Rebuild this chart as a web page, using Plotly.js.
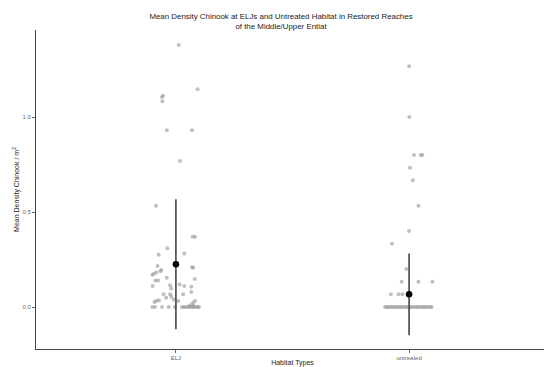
<!DOCTYPE html>
<html>
<head>
<meta charset="utf-8">
<script src="https://cdn.plot.ly/plotly-3.0.1.min.js"></script>
<style>
html,body{margin:0;padding:0;overflow:hidden;background:#fff;}
#chart{width:550px;height:367px;}
</style>
</head>
<body>
<div id="chart"></div>
<script>
// Categories and tick labels
var categories = ["ELJ", "untreated"];
var categoryPositions = [1, 2];

// ELJ densities (points) and their horizontal jitter
var eljDensity = [1.379, 1.146, 1.112, 1.106, 1.083, 0.930, 0.930, 0.768, 0.533,
  0.370, 0.370, 0.309, 0.275, 0.281, 0.216, 0.195, 0.188, 0.175, 0.170, 0.181,
  0.209, 0.207, 0.139, 0.139, 0.154, 0.147, 0.111, 0.119, 0.111, 0.114, 0.098,
  0.079, 0.107, 0.067, 0.067, 0.054, 0.067, 0.049, 0.032, 0.035, 0.026, 0.032,
  0.032, 0.023, 0.040, 0.009, 0.009,
  0, 0, 0, 0, 0, 0, 0, 0, 0, 0, 0, 0, 0, 0, 0];
var eljJitter = [0.012, 0.093, -0.055, -0.060, -0.058, -0.039, 0.069, 0.017, -0.085,
  0.072, 0.082, -0.037, -0.074, 0.036, -0.079, -0.063, -0.066, -0.094, -0.101, -0.084,
  0.069, 0.074, -0.088, -0.076, -0.039, 0.081, -0.100, 0.016, 0.036, -0.025, -0.020,
  0.066, 0.066, -0.053, -0.025, -0.020, 0.031, -0.042, -0.084, -0.073, -0.092, 0.010,
  0.082, 0.073, -0.009, 0.060, 0.074,
  -0.101, -0.090, -0.060, -0.031, -0.005, 0.026, 0.034, 0.043, 0.051, 0.060, 0.069,
  0.077, 0.086, 0.094, 0.099];

// Untreated densities (points) and jitter
var untreatedDensity = [1.267, 1.000, 0.800, 0.800, 0.800, 0.733, 0.667, 0.533, 0.400,
  0.333, 0.200, 0.133, 0.133, 0.133, 0.067, 0.067, 0.067,
  0, 0, 0, 0, 0, 0, 0, 0, 0, 0, 0, 0, 0, 0, 0, 0, 0, 0, 0, 0, 0, 0, 0, 0, 0];
var untreatedJitter = [0.000, 0.001, 0.021, 0.050, 0.057, 0.004, 0.016, 0.040, 0.000,
  -0.073, -0.012, -0.032, 0.040, 0.100, -0.078, -0.046, -0.029,
  -0.103, -0.095, -0.088, -0.079, -0.071, -0.062, -0.055, -0.046, -0.037, -0.030,
  -0.021, -0.012, -0.004, 0.005, 0.013, 0.022, 0.031, 0.038, 0.047, 0.056, 0.064,
  0.072, 0.081, 0.090, 0.097, 0.104];

// Mean and standard deviation per habitat type
var meanDensity = [0.225, 0.067];
var sdDensity = [0.342, 0.215];

function place(pos, jit) { return jit.map(function (j) { return pos + j; }); }

var pointStyle = {size: 4, color: "rgba(150,150,150,0.6)", line: {width: 0}};

var traces = [
  {x: place(categoryPositions[0], eljJitter), y: eljDensity, type: "scatter", mode: "markers",
   marker: pointStyle, hoverinfo: "y", showlegend: false},
  {x: place(categoryPositions[1], untreatedJitter), y: untreatedDensity, type: "scatter", mode: "markers",
   marker: pointStyle, hoverinfo: "y", showlegend: false},
  {x: categoryPositions, y: meanDensity, type: "scatter", mode: "markers",
   marker: {size: 6.5, color: "#000"},
   error_y: {type: "data", array: sdDensity, visible: true, thickness: 1.6, width: 0, color: "#444"},
   showlegend: false}
];

var tickFont = {family: "Liberation Sans, Arial, sans-serif", size: 6, color: "#666"};
var layout = {
  width: 550, height: 367,
  margin: {l: 36, r: 1, t: 30, b: 18},
  paper_bgcolor: "#fff", plot_bgcolor: "#fff",
  font: {family: "Liberation Sans, Arial, sans-serif", color: "#000"},
  title: {text: "Mean Density Chinook at ELJs and Untreated Habitat in Restored Reaches<br>of the Middle/Upper Entiat",
    font: {size: 7.9, color: "#222"}, xref: "container", x: 281 / 550, xanchor: "center",
    yref: "container", y: 1 - 18.5 / 367, yanchor: "middle"},
  xaxis: {range: [0.4, 2.6], tickvals: categoryPositions, ticktext: categories,
    showgrid: false, zeroline: false, showline: true, linecolor: "#444", linewidth: 1,
    ticks: "outside", ticklen: 3, tickcolor: "#444", tickwidth: 0.8, tickfont: tickFont,
    title: {text: "Habitat Types", font: {size: 7, color: "#222"}, standoff: 2}},
  yaxis: {range: [-0.221, 1.458], tickvals: [0, 0.5, 1.0], ticktext: ["0.0", "0.5", "1.0"],
    showgrid: false, zeroline: false, showline: true, linecolor: "#444", linewidth: 1,
    ticks: "outside", ticklen: 3, tickcolor: "#444", tickwidth: 0.8, tickfont: tickFont,
    title: {text: "Mean Density Chinook / m<sup>2</sup>", font: {size: 7, color: "#222"}, standoff: 2}}
};

Plotly.newPlot("chart", traces, layout, {displayModeBar: false, staticPlot: true});
</script>
</body>
</html>
